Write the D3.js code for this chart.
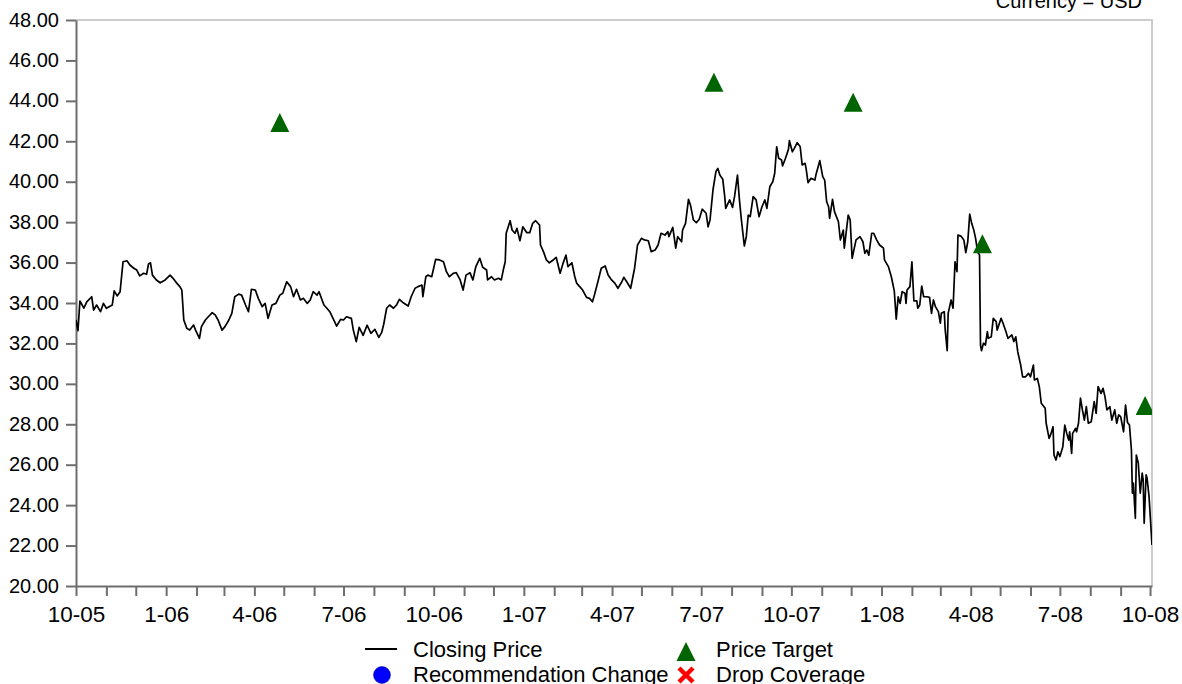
<!DOCTYPE html>
<html>
<head>
<meta charset="utf-8">
<script src="https://cdn.jsdelivr.net/npm/d3@7"></script>
<style>
  body { margin: 0; background: #fff; }
  svg text { font-family: "Liberation Sans", Arial, sans-serif; fill: #000; }
</style>
</head>
<body>
<svg id="chart" width="1182" height="684"></svg>
<script>
// closing price
const closeDates = [
  "2005-10-01","2005-10-03","2005-10-05","2005-10-09","2005-10-12","2005-10-17","2005-10-19","2005-10-22","2005-10-26","2005-10-29",
  "2005-11-01","2005-11-07","2005-11-09","2005-11-12","2005-11-15","2005-11-18","2005-11-22","2005-11-25","2005-11-29",
  "2005-12-02","2005-12-05","2005-12-09","2005-12-12","2005-12-14","2005-12-16","2005-12-18","2005-12-22","2005-12-26","2005-12-31",
  "2006-01-05","2006-01-08","2006-01-12","2006-01-15","2006-01-17","2006-01-19","2006-01-22","2006-01-25","2006-01-29","2006-01-31",
  "2006-02-04","2006-02-06","2006-02-10","2006-02-13","2006-02-17","2006-02-20","2006-02-23","2006-02-27",
  "2006-03-02","2006-03-06","2006-03-09","2006-03-12","2006-03-16","2006-03-19","2006-03-23","2006-03-26","2006-03-29",
  "2006-04-02","2006-04-05","2006-04-09","2006-04-12","2006-04-15","2006-04-19","2006-04-23","2006-04-27","2006-04-30",
  "2006-05-04","2006-05-08","2006-05-11","2006-05-14","2006-05-18","2006-05-21","2006-05-25","2006-05-28","2006-05-31",
  "2006-06-04","2006-06-06","2006-06-11","2006-06-14","2006-06-17","2006-06-21","2006-06-24","2006-06-28",
  "2006-07-01","2006-07-04","2006-07-09","2006-07-11","2006-07-14","2006-07-17","2006-07-21","2006-07-25","2006-07-29",
  "2006-08-02","2006-08-06","2006-08-09","2006-08-11","2006-08-14","2006-08-17","2006-08-21","2006-08-24","2006-08-27","2006-08-31",
  "2006-09-05","2006-09-08","2006-09-12","2006-09-15","2006-09-19","2006-09-20","2006-09-23","2006-09-25","2006-09-29",
  "2006-10-03","2006-10-07","2006-10-11","2006-10-14","2006-10-17","2006-10-21","2006-10-24","2006-10-28","2006-10-31",
  "2006-11-03","2006-11-07","2006-11-10","2006-11-13","2006-11-17","2006-11-20","2006-11-24","2006-11-25","2006-11-29",
  "2006-12-02","2006-12-06","2006-12-09","2006-12-11","2006-12-13","2006-12-14","2006-12-18","2006-12-20","2006-12-23","2006-12-25","2006-12-28","2006-12-31",
  "2007-01-04","2007-01-07","2007-01-10","2007-01-13","2007-01-17","2007-01-18","2007-01-21","2007-01-24","2007-01-27","2007-01-31",
  "2007-02-03","2007-02-07","2007-02-10","2007-02-13","2007-02-15","2007-02-19","2007-02-22","2007-02-24","2007-02-27",
  "2007-03-02","2007-03-06","2007-03-09","2007-03-12","2007-03-14","2007-03-18","2007-03-21","2007-03-25","2007-03-28","2007-03-31",
  "2007-04-04","2007-04-07","2007-04-11","2007-04-13","2007-04-16","2007-04-20","2007-04-24","2007-04-27",
  "2007-05-01","2007-05-04","2007-05-08","2007-05-11","2007-05-15","2007-05-18","2007-05-21","2007-05-25","2007-05-28","2007-05-29",
  "2007-06-02","2007-06-05","2007-06-07","2007-06-11","2007-06-12","2007-06-15","2007-06-18","2007-06-20","2007-06-23","2007-06-26","2007-06-29",
  "2007-07-02","2007-07-06","2007-07-08","2007-07-10","2007-07-13","2007-07-16","2007-07-18","2007-07-20","2007-07-23","2007-07-25","2007-07-26","2007-07-30",
  "2007-08-02","2007-08-04","2007-08-07","2007-08-09","2007-08-11","2007-08-14","2007-08-16","2007-08-18","2007-08-20","2007-08-23","2007-08-26","2007-08-29",
  "2007-09-01","2007-09-04","2007-09-06","2007-09-09","2007-09-12","2007-09-14","2007-09-16","2007-09-18","2007-09-21","2007-09-22","2007-09-25","2007-09-28","2007-09-29",
  "2007-10-02","2007-10-04","2007-10-07","2007-10-10","2007-10-12","2007-10-15","2007-10-16","2007-10-18","2007-10-21","2007-10-25","2007-10-26","2007-10-30",
  "2007-11-02","2007-11-04","2007-11-06","2007-11-08","2007-11-09","2007-11-12","2007-11-14","2007-11-18","2007-11-20","2007-11-23","2007-11-24","2007-11-28","2007-11-30",
  "2007-12-02","2007-12-06","2007-12-10","2007-12-13","2007-12-15","2007-12-17","2007-12-19","2007-12-22","2007-12-24","2007-12-27","2007-12-30",
  "2008-01-03","2008-01-04","2008-01-08","2008-01-11","2008-01-14","2008-01-16","2008-01-18","2008-01-20","2008-01-22","2008-01-25","2008-01-26","2008-01-27","2008-01-30",
  "2008-02-01","2008-02-03","2008-02-06","2008-02-07","2008-02-09","2008-02-11","2008-02-13","2008-02-16","2008-02-19","2008-02-21","2008-02-23","2008-02-25","2008-02-28",
  "2008-03-01","2008-03-02","2008-03-05","2008-03-06","2008-03-08","2008-03-09","2008-03-12","2008-03-14","2008-03-16","2008-03-18","2008-03-19","2008-03-22","2008-03-25","2008-03-27","2008-03-29","2008-03-31",
  "2008-04-02","2008-04-04","2008-04-06","2008-04-08","2008-04-10","2008-04-11","2008-04-12","2008-04-14","2008-04-16","2008-04-18","2008-04-19","2008-04-22","2008-04-24","2008-04-27","2008-04-28",
  "2008-05-02","2008-05-04","2008-05-07","2008-05-09","2008-05-13","2008-05-15","2008-05-17","2008-05-19","2008-05-22","2008-05-24","2008-05-27","2008-05-30",
  "2008-06-01","2008-06-04","2008-06-05","2008-06-08","2008-06-10","2008-06-12","2008-06-16","2008-06-17","2008-06-20","2008-06-22","2008-06-24","2008-06-25","2008-06-27","2008-06-29",
  "2008-07-01","2008-07-04","2008-07-06","2008-07-08","2008-07-10","2008-07-11","2008-07-13","2008-07-14","2008-07-17","2008-07-18","2008-07-20","2008-07-22","2008-07-24","2008-07-26","2008-07-28","2008-07-30",
  "2008-08-02","2008-08-05","2008-08-07","2008-08-09","2008-08-12","2008-08-14","2008-08-16","2008-08-18","2008-08-21","2008-08-23","2008-08-26","2008-08-28","2008-08-30",
  "2008-09-01","2008-09-04","2008-09-06","2008-09-08","2008-09-10","2008-09-12","2008-09-13","2008-09-14","2008-09-16","2008-09-17","2008-09-19","2008-09-21","2008-09-23","2008-09-24","2008-09-25","2008-09-27","2008-09-28","2008-09-30",
  "2008-10-03"
];
const closePrices = [
  33.16,32.63,34.10,33.75,34.06,34.31,33.65,33.90,33.57,33.98,
  33.74,33.90,34.60,34.35,34.56,36.04,36.09,35.88,35.72,
  35.63,35.34,35.47,35.42,35.93,35.99,35.38,35.14,35.00,35.14,
  35.38,35.22,34.97,34.81,34.64,33.16,32.75,32.66,32.91,32.66,
  32.25,32.83,33.16,33.32,33.52,33.41,33.16,32.66,
  32.83,33.16,33.49,34.31,34.44,34.39,33.90,33.57,34.68,
  34.64,34.23,33.82,33.98,33.24,33.90,33.98,34.39,34.48,
  35.05,34.81,34.31,34.68,34.15,34.23,33.98,34.15,34.56,
  34.39,34.56,33.90,33.74,33.57,33.16,32.86,33.19,
  33.16,33.32,33.24,32.66,32.09,32.80,32.40,32.90,32.50,
  32.70,32.30,32.55,32.95,33.74,33.90,33.74,33.90,34.18,34.01,
  33.85,34.31,34.73,34.81,34.89,34.31,35.30,35.38,35.30,
  36.16,36.13,36.04,35.55,35.30,35.47,35.50,35.14,34.64,
  35.38,35.50,35.14,35.80,36.21,35.77,35.63,35.14,35.30,
  35.14,35.22,35.14,35.63,36.04,37.45,38.07,37.61,37.45,37.69,37.08,37.77,
  37.48,37.48,37.94,38.07,37.86,36.87,36.54,36.13,35.99,36.13,
  36.26,35.47,35.96,36.37,35.80,35.99,35.30,34.97,34.81,
  34.64,34.28,34.23,34.06,34.39,35.14,35.72,35.83,35.38,35.17,
  34.97,34.73,35.05,35.27,35.05,34.73,35.72,36.87,
  37.20,37.12,37.08,36.54,36.62,36.87,37.45,37.36,37.53,37.28,
  37.74,36.71,37.28,37.03,37.61,37.94,39.13,38.85,38.11,37.97,38.14,
  38.64,38.44,37.77,38.11,39.59,40.50,40.66,40.33,40.12,39.26,38.68,39.10,
  38.73,39.26,40.33,39.10,38.11,36.82,37.28,38.35,38.27,39.26,39.10,38.27,
  38.76,39.10,38.68,39.75,40.00,40.42,41.73,41.16,41.07,40.78,41.16,41.60,42.03,
  41.48,41.65,41.93,41.73,40.83,40.91,40.66,39.95,40.17,40.08,40.33,41.04,
  40.25,40.08,39.01,38.76,38.19,39.13,38.52,38.02,37.12,37.61,36.71,38.35,38.11,
  36.21,37.12,37.28,37.03,36.46,36.62,36.37,37.45,37.45,37.12,36.87,
  36.71,36.13,35.80,35.30,34.60,33.20,34.30,33.98,34.56,34.48,33.98,34.64,34.81,
  36.04,34.11,34.11,33.74,33.90,34.84,34.31,34.31,34.28,33.49,34.15,33.82,33.57,
  33.00,33.49,33.57,32.66,31.64,33.49,34.15,33.74,36.04,35.55,37.36,37.31,37.12,36.49,37.03,38.40,
  37.94,37.64,37.20,36.54,36.37,31.92,31.64,32.01,31.92,32.58,32.25,32.33,33.24,33.08,32.66,
  33.24,33.00,32.58,32.25,32.42,32.09,32.33,31.59,30.93,30.35,30.35,30.52,
  30.35,30.93,30.19,30.27,29.86,29.04,28.79,28.05,27.30,27.55,27.88,26.48,26.23,26.64,
  26.40,26.89,27.96,27.55,27.22,27.63,26.56,27.55,27.80,27.63,28.05,29.29,28.71,28.21,28.87,28.05,
  28.13,29.12,28.54,29.86,29.53,29.78,29.37,28.71,28.87,28.21,28.71,28.05,28.46,
  28.38,27.63,28.95,28.09,27.96,26.73,24.59,25.09,23.35,26.48,26.07,24.59,25.58,25.25,23.10,25.50,25.33,24.42,
  22.03
];

// price target events
const targetDates = ["2006-04-27", "2007-07-14", "2007-12-03", "2008-04-13", "2008-09-26"];
const targetPrices = [43, 45, 44, 37, 29];

const yTicks = [20, 22, 24, 26, 28, 30, 32, 34, 36, 38, 40, 42, 44, 46, 48];
const legendItems = ["Closing Price", "Price Target", "Recommendation Change", "Drop Coverage"];
const currencyNote = "Currency = USD";

const parse = d3.timeParse("%Y-%m-%d");
const series = closeDates.map((d, i) => ({ date: parse(d), value: closePrices[i] }));
const targets = targetDates.map((d, i) => ({ date: parse(d), value: targetPrices[i] }));

const svg = d3.select("#chart");
const plotL = 76, plotT = 20, plotR = 1152, plotB = 586;
const axisColor = "#6e6e6e", frameColor = "#cccccc";

const x = d3.scaleTime()
  .domain([parse("2005-10-01"), series[series.length - 1].date])
  .range([plotL, plotR]);
const y = d3.scaleLinear().domain([20, 48]).range([plotB, plotT]);

svg.append("defs").append("clipPath").attr("id", "plot")
  .append("rect").attr("x", plotL).attr("y", plotT).attr("width", plotR - plotL).attr("height", plotB - plotT);

// light frame on top and right
svg.append("path")
  .attr("d", `M${plotL},${plotT}H${plotR}V${plotB}`)
  .attr("fill", "none").attr("stroke", frameColor).attr("stroke-width", 2);

// y axis
const yAxis = svg.append("g")
  .attr("transform", `translate(${plotL},0)`)
  .call(d3.axisLeft(y).tickValues(yTicks).tickFormat(d3.format(".2f")).tickSize(10).tickSizeOuter(0).tickPadding(7));

// x axis, monthly ticks, labels each quarter
const xAxis = svg.append("g")
  .attr("transform", `translate(0,${plotB})`)
  .call(d3.axisBottom(x)
    .ticks(d3.timeMonth.every(1))
    .tickFormat(d => (d.getMonth() % 3 === 0) ? d3.timeFormat("%-m-%y")(d) : "")
    .tickSize(10).tickSizeOuter(0).tickPadding(8));

[yAxis, xAxis].forEach(g => {
  g.select(".domain").attr("stroke", axisColor).attr("stroke-width", 2);
  g.selectAll(".tick line").attr("stroke", axisColor).attr("stroke-width", 2);
});
yAxis.selectAll(".tick text").attr("font-size", 20).attr("dy", "0.3em");
xAxis.selectAll(".tick text").attr("font-size", 22.5).attr("dy", "0.78em");

// closing price line
const line = d3.line().x(d => x(d.date)).y(d => y(d.value));
svg.append("path")
  .datum(series)
  .attr("clip-path", "url(#plot)")
  .attr("fill", "none")
  .attr("stroke", "#000")
  .attr("stroke-width", 1.7)
  .attr("stroke-linejoin", "round")
  .attr("d", line);

// price target triangles
const tri = "M0,-8L9.5,11L-9.5,11Z";
svg.append("g").attr("clip-path", "url(#plot)")
  .selectAll("path")
  .data(targets)
  .join("path")
  .attr("transform", d => `translate(${x(d.date)},${y(d.value)})`)
  .attr("d", tri)
  .attr("fill", "#006400");

// currency note
svg.append("text")
  .attr("x", 1142).attr("y", 8)
  .attr("text-anchor", "end")
  .attr("font-size", 20)
  .text(currencyNote);

// legend
const lg = svg.append("g");
lg.append("line").attr("x1", 365).attr("x2", 397).attr("y1", 649).attr("y2", 649)
  .attr("stroke", "#000").attr("stroke-width", 2);
lg.append("path").attr("transform", "translate(686,650)").attr("d", tri).attr("fill", "#006400");
lg.append("circle").attr("cx", 382).attr("cy", 675).attr("r", 8.5)
  .attr("fill", "#0000ff").attr("stroke", "#000080").attr("stroke-width", 0.5);
lg.append("path").attr("transform", "translate(686,675)")
  .attr("d", "M-7,-7L7,7M7,-7L-7,7")
  .attr("stroke", "#ff0000").attr("stroke-width", 4.5);

const legendPos = [[413, 657], [716, 657], [413, 682], [716, 682]];
lg.selectAll("text.lbl")
  .data(legendItems)
  .join("text")
  .attr("class", "lbl")
  .attr("x", (d, i) => legendPos[i][0])
  .attr("y", (d, i) => legendPos[i][1])
  .attr("font-size", 22)
  .text(d => d);
</script>
</body>
</html>
